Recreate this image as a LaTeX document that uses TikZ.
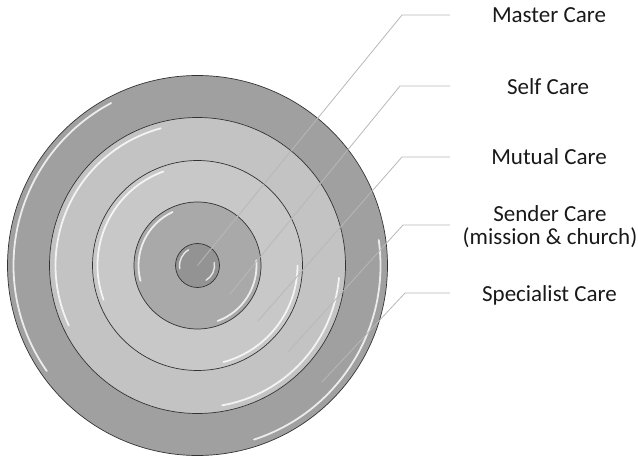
\documentclass[tikz,border=0pt]{standalone}
\usepackage{fontspec}
\setmainfont{Carlito}
\usetikzlibrary{positioning}

\definecolor{ringdark}{HTML}{A0A0A0}
\definecolor{ringlight}{HTML}{C3C3C3}
\definecolor{ringpale}{HTML}{C8C8C8}
\definecolor{ringmid}{HTML}{A9A9A9}
\definecolor{ringcore}{HTML}{939393}

\begin{document}
\begin{tikzpicture}[x=1pt, y=1pt, font=\fontsize{23}{23}\selectfont]
\tikzstyle{disk}=[circle, draw=black!80, line width=0.7pt, inner sep=0pt]
\tikzstyle{shine}=[white, line width=1.8pt, opacity=0.8, line cap=round]
\tikzstyle{leader}=[draw=black!28, line width=0.8pt]
\tikzstyle{lbl}=[align=center, text=black!90, inner sep=0pt]
\useasboundingbox (0,0) rectangle (638,456);

\coordinate (c) at (197.5,190.5);

% stacked disks, outside in
\node[disk, fill=ringdark, minimum size=380pt] (specdisk) at (c) {};
\draw[shine] ([shift={(118:184)}]c) arc (118:215:184);
\draw[shine] ([shift={(-72:183)}]c) arc (-72:8:183);
\node[disk, fill=ringlight, minimum size=296pt] (senddisk) at (c) {};
\draw[shine] ([shift={(105:142)}]c) arc (105:205:142);
\draw[shine] ([shift={(-80:142)}]c) arc (-80:-5:142);
\node[disk, fill=ringpale, minimum size=210pt] (mutdisk) at (c) {};
\draw[shine] ([shift={(110:100)}]c) arc (110:200:100);
\draw[shine] ([shift={(-75:100)}]c) arc (-75:0:100);
\node[disk, fill=ringmid, minimum size=127pt] (selfdisk) at (c) {};
\draw[shine] ([shift={(115:59)}]c) arc (115:195:59);
\draw[shine] ([shift={(-70:59)}]c) arc (-70:5:59);
\node[disk, fill=ringcore, minimum size=44pt] (mastdisk) at (c) {};
\draw[shine, line width=1.4pt] ([shift={(120:18)}]c) arc (120:190:18);
\draw[shine, line width=1.4pt] ([shift={(-60:17)}]c) arc (-60:10:17);

% labels
\node[lbl] (mastlbl) at (549,440.5) {Master Care};
\node[lbl] (selflbl) at (548,369) {Self Care};
\node[lbl] (mutlbl) at (549,299) {Mutual Care};
\node[lbl] (sendlbl) at (550,229) {Sender Care\\(mission \& church)};
\node[lbl] (speclbl) at (549.5,161) {Specialist Care};

% leader lines
\coordinate (mastend) at (450,441);
\coordinate (mastbend) at (402,441);
\coordinate (mastpt) at (197.5,190.5);
\coordinate (selfend) at (450,370);
\coordinate (selfbend) at (400,370);
\coordinate (selfpt) at (230,162);
\coordinate (mutend) at (450,299);
\coordinate (mutbend) at (402,299);
\coordinate (mutpt) at (258,135);
\coordinate (sendend) at (450,231);
\coordinate (sendbend) at (403,231);
\coordinate (sendpt) at (288,104);
\coordinate (specend) at (450,163);
\coordinate (specbend) at (405,163);
\coordinate (specpt) at (322,74);

\draw[leader] (mastend) -- (mastbend) -- (mastpt);
\draw[leader] (selfend) -- (selfbend) -- (selfpt);
\draw[leader] (mutend) -- (mutbend) -- (mutpt);
\draw[leader] (sendend) -- (sendbend) -- (sendpt);
\draw[leader] (specend) -- (specbend) -- (specpt);
\end{tikzpicture}
\end{document}
